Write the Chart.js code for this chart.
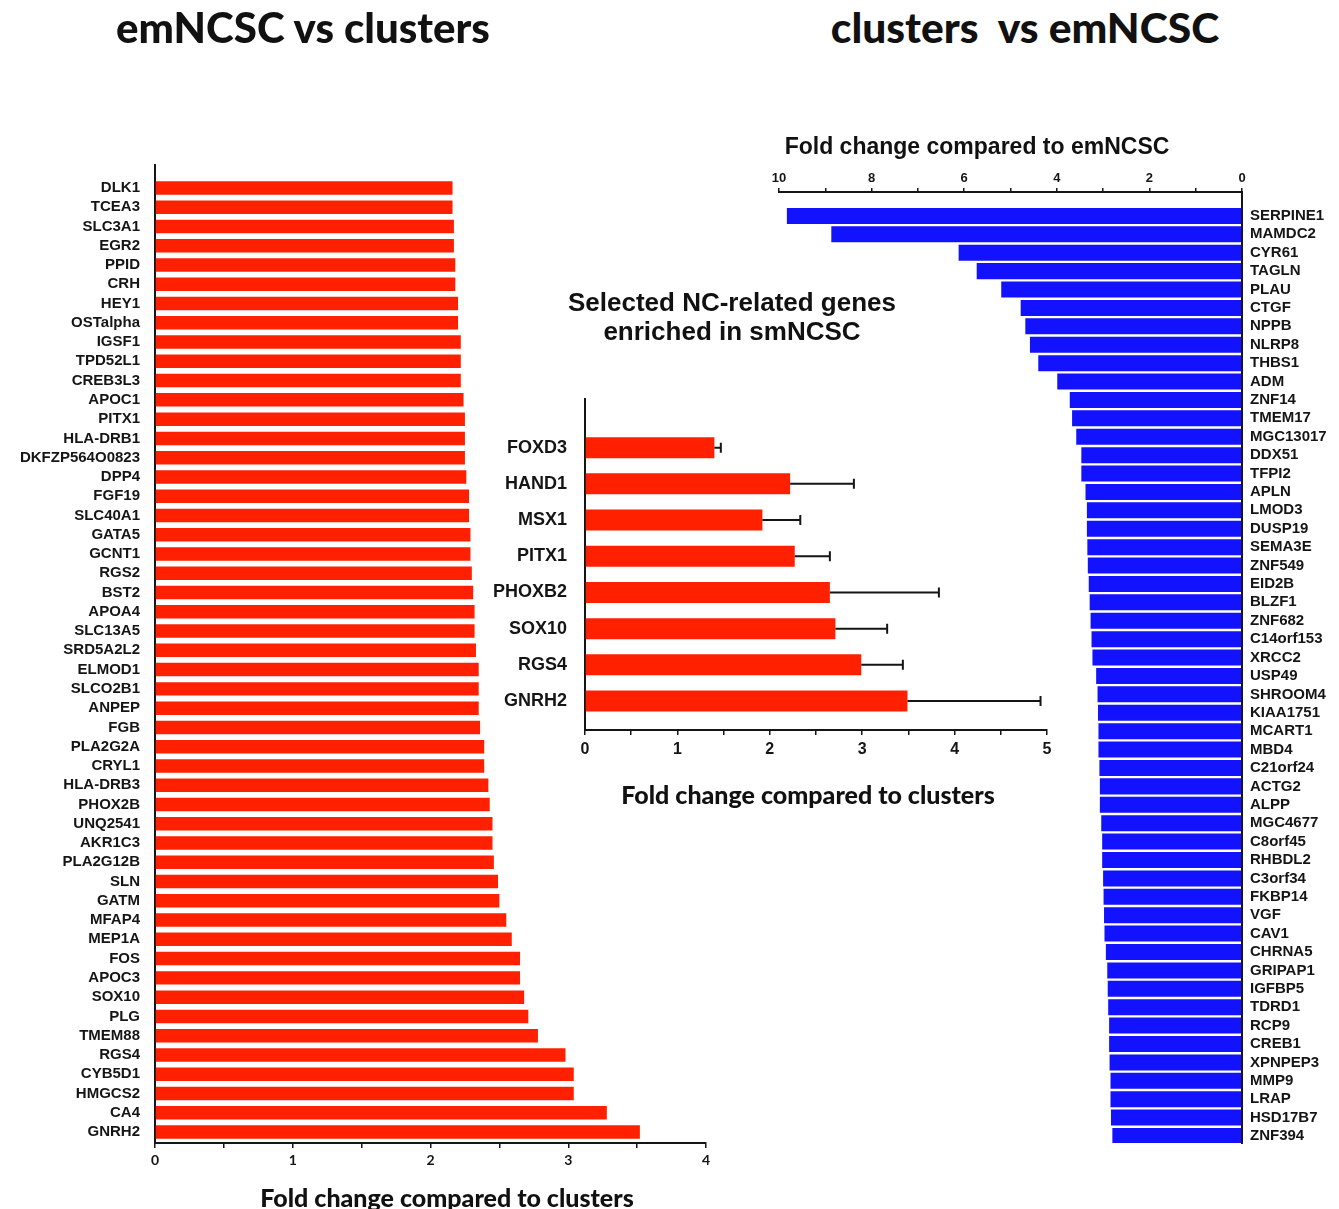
<!DOCTYPE html>
<html>
<head>
<meta charset="utf-8">
<title>emNCSC vs clusters</title>
<script src="https://cdn.jsdelivr.net/npm/chart.js@4"></script>
<style>
  body { margin: 0; background: #fff; }
  #page { position: relative; width: 1339px; height: 1209px; overflow: hidden; }
  .box { position: absolute; }
  .txt { position: absolute; transform: translateX(-50%); white-space: pre; color: #111; z-index: 5; text-align: center; }
  .gill { font-family: Lato, "Open Sans", sans-serif; font-weight: 900; }
  .arial { font-family: "Liberation Sans", Arial, sans-serif; font-weight: 700; }
</style>
</head>
<body>
<div id="page">
  <div class="txt gill" style="left:303px; top:3px; font-size:42px; line-height:48px;">emNCSC vs clusters</div>
  <div class="txt gill" style="left:1025px; top:3px; font-size:42.5px; line-height:48px;">clusters  vs emNCSC</div>
  <div class="txt arial" style="left:977px; top:133px; font-size:23px; line-height:26px;">Fold change compared to emNCSC</div>
  <div class="txt arial" style="left:732px; top:288px; font-size:26px; line-height:29px;">Selected NC-related genes
enriched in smNCSC</div>
  <div class="txt gill" style="left:808px; top:779px; font-size:25px; line-height:30px;">Fold change compared to clusters</div>
  <div class="txt gill" style="left:447px; top:1182px; font-size:25px; line-height:30px;">Fold change compared to clusters</div>

  <div class="box" style="left:0; top:0; width:730px; height:1209px;"><canvas id="leftChart"></canvas></div>
  <div class="box" style="left:760px; top:100px; width:579px; height:1109px;"><canvas id="rightChart"></canvas></div>
  <div class="box" style="left:470px; top:370px; width:600px; height:430px;"><canvas id="ncChart"></canvas></div>
</div>

<script>
// emNCSC vs clusters (fold change compared to clusters)
const leftGenes = ['DLK1', 'TCEA3', 'SLC3A1', 'EGR2', 'PPID', 'CRH', 'HEY1', 'OSTalpha', 'IGSF1', 'TPD52L1',
  'CREB3L3', 'APOC1', 'PITX1', 'HLA-DRB1', 'DKFZP564O0823', 'DPP4', 'FGF19', 'SLC40A1', 'GATA5', 'GCNT1',
  'RGS2', 'BST2', 'APOA4', 'SLC13A5', 'SRD5A2L2', 'ELMOD1', 'SLCO2B1', 'ANPEP', 'FGB', 'PLA2G2A',
  'CRYL1', 'HLA-DRB3', 'PHOX2B', 'UNQ2541', 'AKR1C3', 'PLA2G12B', 'SLN', 'GATM', 'MFAP4', 'MEP1A',
  'FOS', 'APOC3', 'SOX10', 'PLG', 'TMEM88', 'RGS4', 'CYB5D1', 'HMGCS2', 'CA4', 'GNRH2'];
const leftFold = [2.16, 2.16, 2.17, 2.17, 2.18, 2.18, 2.20, 2.20, 2.22, 2.22,
  2.22, 2.24, 2.25, 2.25, 2.25, 2.26, 2.28, 2.28, 2.29, 2.29,
  2.30, 2.31, 2.32, 2.32, 2.33, 2.35, 2.35, 2.35, 2.36, 2.39,
  2.39, 2.42, 2.43, 2.45, 2.45, 2.46, 2.49, 2.50, 2.55, 2.59,
  2.65, 2.65, 2.68, 2.71, 2.78, 2.98, 3.04, 3.04, 3.28, 3.52];

// clusters vs emNCSC (fold change compared to emNCSC)
const rightGenes = ['SERPINE1', 'MAMDC2', 'CYR61', 'TAGLN', 'PLAU', 'CTGF', 'NPPB', 'NLRP8', 'THBS1', 'ADM',
  'ZNF14', 'TMEM17', 'MGC13017', 'DDX51', 'TFPI2', 'APLN', 'LMOD3', 'DUSP19', 'SEMA3E', 'ZNF549',
  'EID2B', 'BLZF1', 'ZNF682', 'C14orf153', 'XRCC2', 'USP49', 'SHROOM4', 'KIAA1751', 'MCART1', 'MBD4',
  'C21orf24', 'ACTG2', 'ALPP', 'MGC4677', 'C8orf45', 'RHBDL2', 'C3orf34', 'FKBP14', 'VGF', 'CAV1',
  'CHRNA5', 'GRIPAP1', 'IGFBP5', 'TDRD1', 'RCP9', 'CREB1', 'XPNPEP3', 'MMP9', 'LRAP', 'HSD17B7', 'ZNF394'];
const rightFold = [9.83, 8.87, 6.12, 5.73, 5.20, 4.78, 4.68, 4.58, 4.40, 3.99,
  3.72, 3.67, 3.58, 3.47, 3.47, 3.38, 3.35, 3.35, 3.34, 3.33,
  3.31, 3.29, 3.27, 3.25, 3.23, 3.15, 3.12, 3.11, 3.10, 3.10,
  3.08, 3.07, 3.07, 3.04, 3.02, 3.02, 3.00, 2.99, 2.98, 2.97,
  2.94, 2.91, 2.90, 2.89, 2.87, 2.87, 2.86, 2.84, 2.84, 2.83, 2.80];

// selected NC-related genes enriched in smNCSC
const ncGenes = ['FOXD3', 'HAND1', 'MSX1', 'PITX1', 'PHOXB2', 'SOX10', 'RGS4', 'GNRH2'];
const ncFold = [1.40, 2.22, 1.92, 2.27, 2.65, 2.71, 2.99, 3.49];
const ncError = [0.07, 0.69, 0.41, 0.38, 1.18, 0.56, 0.45, 1.44];

const RED = 'rgb(255, 32, 0)';
const BLUE = 'rgb(18, 18, 255)';
const INK = '#151515';
const ARIAL = '"Liberation Sans", Arial, sans-serif';
const GILL = 'Lato, "Open Sans", sans-serif';

Chart.defaults.animation = false;
Chart.defaults.plugins.legend.display = false;
Chart.defaults.plugins.tooltip.enabled = false;

// one tick per gene on the (linear) index axis
function geneTicks(labels) {
  return scale => { scale.ticks = labels.map((_, i) => ({ value: i })); };
}

function points(values) {
  return values.map((v, i) => ({ x: v, y: i }));
}

// error bars (mean + SD) for the inset
const errorBars = {
  id: 'errorBars',
  afterDatasetsDraw(chart) {
    const { ctx, scales: { x, y } } = chart;
    ctx.save();
    ctx.strokeStyle = INK;
    ctx.lineWidth = 2;
    ncFold.forEach((v, i) => {
      const x0 = x.getPixelForValue(v);
      const x1 = x.getPixelForValue(v + ncError[i]);
      const yc = y.getPixelForValue(i);
      ctx.beginPath();
      ctx.moveTo(x0, yc);
      ctx.lineTo(x1, yc);
      ctx.moveTo(x1, yc - 5);
      ctx.lineTo(x1, yc + 5);
      ctx.stroke();
    });
    ctx.restore();
  }
};

// left: emNCSC vs clusters
new Chart(document.getElementById('leftChart'), {
  type: 'bar',
  data: { datasets: [{ data: points(leftFold), backgroundColor: RED, barPercentage: 0.7, categoryPercentage: 1 }] },
  options: {
    indexAxis: 'y',
    responsive: true,
    maintainAspectRatio: false,
    layout: { padding: { top: 165, right: 24 } },
    scales: {
      x: {
        type: 'linear', min: 0, max: 4, bounds: 'data',
        afterFit: s => { s.height = 66; },
        ticks: { stepSize: 0.5, autoSkip: false, maxRotation: 0, padding: 4, color: INK,
          font: { family: GILL, weight: 'bold', size: 14 },
          callback: v => Number.isInteger(v) ? v : '' },
        grid: { drawOnChartArea: false, tickLength: 5, color: INK, lineWidth: 1.5 },
        border: { color: INK, width: 2 }
      },
      y: {
        type: 'linear', reverse: true, offset: false, min: -1.19, max: 49.57, bounds: 'data',
        afterFit: s => { s.width = 155; },
        afterBuildTicks: geneTicks(leftGenes),
        ticks: { autoSkip: false, padding: 15, color: INK,
          font: { family: ARIAL, weight: 'bold', size: 15 },
          callback: v => leftGenes[v] },
        grid: { display: false, drawTicks: false, offset: false },
        border: { color: INK, width: 2 }
      }
    }
  }
});

// right: clusters vs emNCSC
new Chart(document.getElementById('rightChart'), {
  type: 'bar',
  data: { datasets: [{ data: points(rightFold), backgroundColor: BLUE, barPercentage: 0.87, categoryPercentage: 1 }] },
  options: {
    indexAxis: 'y',
    responsive: true,
    maintainAspectRatio: false,
    layout: { padding: { left: 19, bottom: 66 } },
    scales: {
      x: {
        type: 'linear', position: 'top', reverse: true, min: 0, max: 10, bounds: 'data',
        afterFit: s => { s.height = 92; },
        ticks: { stepSize: 1, autoSkip: false, maxRotation: 0, padding: 2, color: INK,
          font: { family: ARIAL, weight: 'bold', size: 13 },
          callback: v => v % 2 === 0 ? v : '' },
        grid: { drawOnChartArea: false, tickLength: 4, color: INK, lineWidth: 1.5 },
        border: { color: INK, width: 2 }
      },
      y: {
        type: 'linear', position: 'right', reverse: true, offset: false, min: -1.30, max: 50.38, bounds: 'data',
        afterFit: s => { s.width = 97; },
        afterBuildTicks: geneTicks(rightGenes),
        ticks: { autoSkip: false, padding: 8, color: INK,
          font: { family: ARIAL, weight: 'bold', size: 15 },
          callback: v => rightGenes[v] },
        grid: { display: false, drawTicks: false, offset: false },
        border: { color: INK, width: 2 }
      }
    }
  }
});

// inset: selected NC-related genes
new Chart(document.getElementById('ncChart'), {
  type: 'bar',
  data: { datasets: [{ data: points(ncFold), backgroundColor: RED, barPercentage: 0.58, categoryPercentage: 1 }] },
  options: {
    indexAxis: 'y',
    responsive: true,
    maintainAspectRatio: false,
    layout: { padding: { top: 0, right: 23 } },
    scales: {
      x: {
        type: 'linear', min: 0, max: 5, bounds: 'data',
        afterFit: s => { s.height = 70; },
        ticks: { stepSize: 0.5, autoSkip: false, maxRotation: 0, padding: 5, color: INK,
          font: { family: ARIAL, weight: 'bold', size: 16 },
          callback: v => Number.isInteger(v) ? v : '' },
        grid: { drawOnChartArea: false, tickLength: 5, color: INK, lineWidth: 1.5 },
        border: { color: INK, width: 2 }
      },
      y: {
        type: 'linear', reverse: true, offset: false, min: -1.35, max: 7.80, bounds: 'data',
        afterFit: s => { s.width = 115; },
        afterBuildTicks: geneTicks(ncGenes),
        ticks: { autoSkip: false, padding: 18, color: INK,
          font: { family: ARIAL, weight: 'bold', size: 18 },
          callback: v => ncGenes[v] },
        grid: { display: false, drawTicks: false, offset: false },
        border: { color: INK, width: 2 }
      }
    }
  },
  plugins: [errorBars]
});
</script>
</body>
</html>
